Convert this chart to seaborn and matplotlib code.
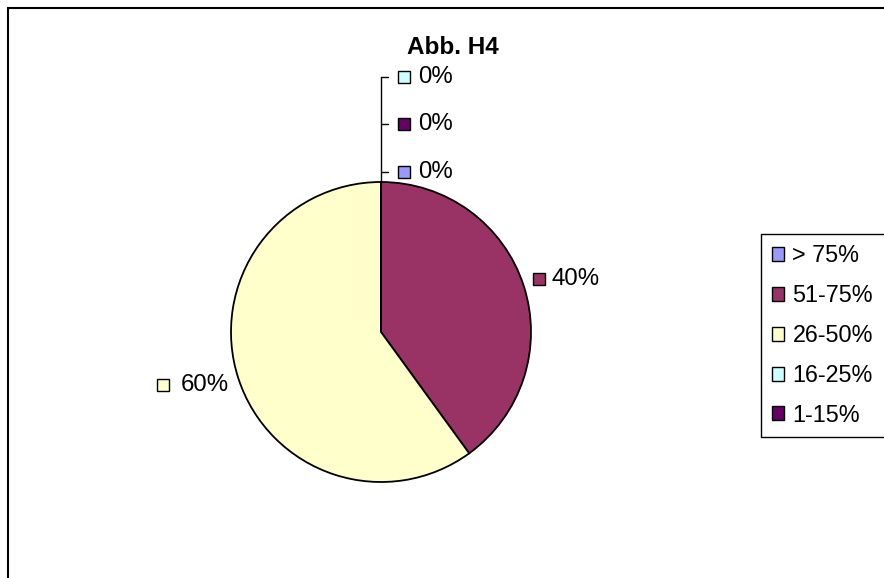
import numpy as np
import seaborn as sns
import matplotlib.pyplot as plt
from matplotlib.patches import Patch, Rectangle

# data
categories = ["> 75%", "51-75%", "26-50%", "16-25%", "1-15%"]
shares = [0, 40, 60, 0, 0]
colors = ["#9999FF", "#993366", "#FFFFCC", "#CCFFFF", "#660066"]

sns.set_theme(style="white")
plt.rcParams["font.family"] = ["Liberation Sans", "DejaVu Sans"]
plt.rcParams["text.color"] = "black"

W, H = 884, 578
fig = plt.figure(figsize=(W / 100, H / 100), dpi=100)
fig.patch.set_facecolor("white")

# pie axes: centre and radius in pixels
cx, cy, r = 381, 332, 150
ax = fig.add_axes([(cx - r) / W, (H - cy - r) / H, 2 * r / W, 2 * r / H])
wedges, _ = ax.pie(shares, colors=colors, startangle=90, counterclock=False,
                   wedgeprops=dict(edgecolor="black", linewidth=1.3))
ax.set_xlim(-1, 1)
ax.set_ylim(-1, 1)
ax.set_aspect("equal")
ax.axis("off")

fs = 17.3
sq = 8.5

# labels for the non-zero slices
for w, val, col in zip(wedges, shares, colors):
    if val == 0:
        continue
    ang = np.deg2rad((w.theta1 + w.theta2) / 2)
    x0, y0 = 1.1 * np.cos(ang), 1.15 * np.sin(ang)
    if x0 > 0:
        ax.plot(x0 + 0.01, y0, "s", ms=sq, mfc=col, mec="black", mew=1, clip_on=False)
        ax.text(x0 + 0.09, y0, f"{val}%", ha="left", va="center", fontsize=fs, clip_on=False)
    else:
        ax.plot(x0 - 0.41, y0, "s", ms=sq, mfc=col, mec="black", mew=1, clip_on=False)
        ax.text(x0 + 0.03, y0, f"{val}%", ha="right", va="center", fontsize=fs, clip_on=False)

# zero slices stacked above the pie with a leader line
zero_order = [0, 4, 3]
zero_y = [1.07, 1.387, 1.70]
ax.plot([0, 0], [1, zero_y[-1]], color="black", lw=1, clip_on=False)
for i, y in zip(zero_order, zero_y):
    ax.plot([0, 0.047], [y, y], color="black", lw=1, clip_on=False)
    ax.plot(0.153, y, "s", ms=sq, mfc=colors[i], mec="black", mew=1, clip_on=False)
    ax.text(0.245, y, f"{shares[i]}%", ha="left", va="center", fontsize=fs, clip_on=False)

fig.text(453 / W, 1 - 47 / H, "Abb. H4", ha="center", va="center",
         fontsize=17.5, fontweight="bold")

handles = [Patch(facecolor=c, edgecolor="black", linewidth=1) for c in colors]
leg = fig.legend(handles, categories, loc="upper left",
                 bbox_to_anchor=(761 / W, (H - 433) / H, 150 / W, 199 / H),
                 mode="expand", fontsize=16.8, handlelength=0.55, handleheight=0.55,
                 handletextpad=0.35, labelspacing=0.72, borderaxespad=0,
                 borderpad=0.45, fancybox=False, framealpha=1)
leg.get_frame().set_edgecolor("black")
leg.get_frame().set_linewidth(1)

# outer chart border, cut off at right and bottom
fig.add_artist(Rectangle((8 / W, -0.1), 1.2, (H - 8) / H + 0.1,
                         transform=fig.transFigure, fill=False,
                         edgecolor="black", linewidth=1.5))

fig.savefig("out.png", dpi=100)
